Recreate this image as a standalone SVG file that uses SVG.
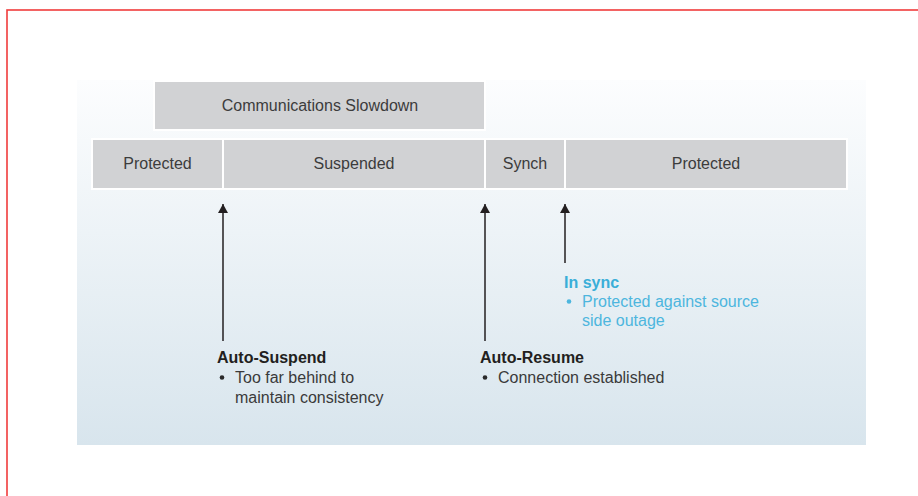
<svg xmlns="http://www.w3.org/2000/svg" width="918" height="496" viewBox="0 0 918 496">
<defs>
<linearGradient id="bg" x1="0" y1="0" x2="0" y2="1">
<stop offset="0" stop-color="#fcfdfe"/>
<stop offset="1" stop-color="#d8e5ed"/>
</linearGradient>
<marker id="ah" markerWidth="10" markerHeight="10" refX="9" refY="5" orient="auto" markerUnits="userSpaceOnUse" viewBox="0 0 10 10">
<path d="M0,0 L9,5 L0,10 Z" fill="#231f20"/>
</marker>
<style>
.box{fill:#d1d2d4;stroke:#ffffff;stroke-width:2}
.bt{font-family:"Liberation Sans",Arial,sans-serif;font-size:16px;fill:#3c3c3c;text-anchor:middle}
.hd{font-family:"Liberation Sans",Arial,sans-serif;font-size:16px;font-weight:bold;fill:#231f20}
.tx{font-family:"Liberation Sans",Arial,sans-serif;font-size:16px;fill:#3a3a3a}
.bl{fill:#2a2a2a}
.hdb{font-family:"Liberation Sans",Arial,sans-serif;font-size:16px;font-weight:bold;fill:#3aaed8}
.txb{font-family:"Liberation Sans",Arial,sans-serif;font-size:16px;fill:#4db6de}
.blb{fill:#4db6de}
.ar{stroke:#231f20;stroke-width:1.5;fill:none;marker-end:url(#ah)}
</style>
</defs>
<rect x="7" y="10" width="1000" height="600" fill="#ffffff" stroke="#f03c3c" stroke-width="1.6"/>
<rect x="77" y="80" width="789" height="365" fill="url(#bg)"/>
<g id="node-comms">
<rect class="box" x="154" y="81" width="331" height="49"/>
<text class="bt" x="320" y="111">Communications Slowdown</text>
</g>
<g id="node-protected1">
<rect class="box" x="92" y="139" width="131" height="50"/>
<text class="bt" x="157.5" y="169">Protected</text>
</g>
<g id="node-suspended">
<rect class="box" x="223" y="139" width="262" height="50"/>
<text class="bt" x="354" y="169">Suspended</text>
</g>
<g id="node-synch">
<rect class="box" x="485" y="139" width="80" height="50"/>
<text class="bt" x="525" y="169">Synch</text>
</g>
<g id="node-protected2">
<rect class="box" x="565" y="139" width="282" height="50"/>
<text class="bt" x="706" y="169">Protected</text>
</g>
<g id="connectors">
<line class="ar" x1="223" y1="341" x2="223" y2="204"/>
<line class="ar" x1="485" y1="341" x2="485" y2="204"/>
<line class="ar" x1="565" y1="263" x2="565" y2="204"/>
</g>
<g id="label-autosuspend">
<text class="hd" x="217" y="363">Auto-Suspend</text>
<circle class="bl" cx="222" cy="377.5" r="2.3"/>
<text class="tx" x="235" y="383">Too far behind to</text>
<text class="tx" x="235" y="403">maintain consistency</text>
</g>
<g id="label-autoresume">
<text class="hd" x="480" y="363">Auto-Resume</text>
<circle class="bl" cx="485" cy="377.5" r="2.3"/>
<text class="tx" x="498" y="383">Connection established</text>
</g>
<g id="label-insync">
<text class="hdb" x="564" y="288">In sync</text>
<circle class="blb" cx="569" cy="301.5" r="2.3"/>
<text class="txb" x="582" y="307">Protected against source</text>
<text class="txb" x="582" y="326">side outage</text>
</g>
</svg>
